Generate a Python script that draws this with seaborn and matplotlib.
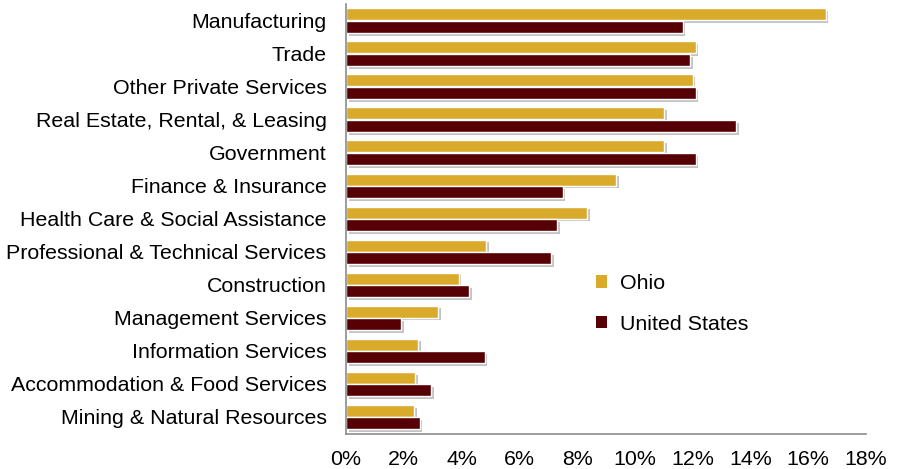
import pandas as pd
import matplotlib
matplotlib.use("Agg")
import matplotlib.pyplot as plt
import matplotlib.patheffects as pe
from matplotlib.ticker import PercentFormatter, MultipleLocator
import seaborn as sns

# Industry share of GDP (%)
industries = [
    "Manufacturing",
    "Trade",
    "Other Private Services",
    "Real Estate, Rental, & Leasing",
    "Government",
    "Finance & Insurance",
    "Health Care & Social Assistance",
    "Professional & Technical Services",
    "Construction",
    "Management Services",
    "Information Services",
    "Accommodation & Food Services",
    "Mining & Natural Resources",
]
ohio = [16.6, 12.1, 12.0, 11.0, 11.0, 9.35, 8.35, 4.85, 3.9, 3.2, 2.5, 2.4, 2.35]
united_states = [11.65, 11.9, 12.1, 13.5, 12.1, 7.5, 7.3, 7.1, 4.25, 1.9, 4.8, 2.95, 2.55]
series = ["Ohio", "United States"]
colors = ["#DAAA2B", "#560005"]

df = pd.DataFrame({
    "industry": industries * 2,
    "share": ohio + united_states,
    "region": [series[0]] * len(industries) + [series[1]] * len(industries),
})

sns.set_style("white")
plt.rcParams["font.family"] = ["Liberation Sans", "DejaVu Sans"]
plt.rcParams["text.color"] = "black"

fig = plt.figure(figsize=(8.97, 4.69), dpi=100)
ax = fig.add_axes([346 / 897, 1 - 433.5 / 469, 520 / 897, 429.5 / 469])

sns.barplot(
    data=df, x="share", y="industry", hue="region", order=industries,
    hue_order=series, palette=colors, saturation=1, orient="h",
    width=0.75, gap=0.03, edgecolor="white", linewidth=1.0, ax=ax,
)

# soft drop shadow like the original office chart
for bar in ax.patches:
    bar.set_path_effects([
        pe.SimplePatchShadow(offset=(2, -2), alpha=0.35, shadow_rgbFace="#555555"),
        pe.Normal(),
    ])

ax.set_xlim(0, 18)
ax.xaxis.set_major_locator(MultipleLocator(2))
ax.xaxis.set_major_formatter(PercentFormatter(decimals=0))
ax.set_xlabel("")
ax.set_ylabel("")
ax.tick_params(axis="x", length=0, pad=12, labelsize=15.4, colors="black")
ax.tick_params(axis="y", length=0, pad=14, labelsize=15.4, colors="black")

for side in ["top", "right"]:
    ax.spines[side].set_visible(False)
for side in ["left", "bottom"]:
    ax.spines[side].set_color("#8c8c8c")
    ax.spines[side].set_linewidth(1.2)

leg = ax.legend(
    loc="upper left", bbox_to_anchor=(0.481, 0.371), frameon=False,
    fontsize=15.4, handlelength=0.5, handleheight=0.5, handletextpad=0.6,
    labelspacing=1.0, borderpad=0, borderaxespad=0,
)
for txt in leg.get_texts():
    txt.set_color("black")
for h in leg.legend_handles:
    h.set_path_effects([])
    h.set_edgecolor("none")

fig.savefig("out.png", dpi=100)
